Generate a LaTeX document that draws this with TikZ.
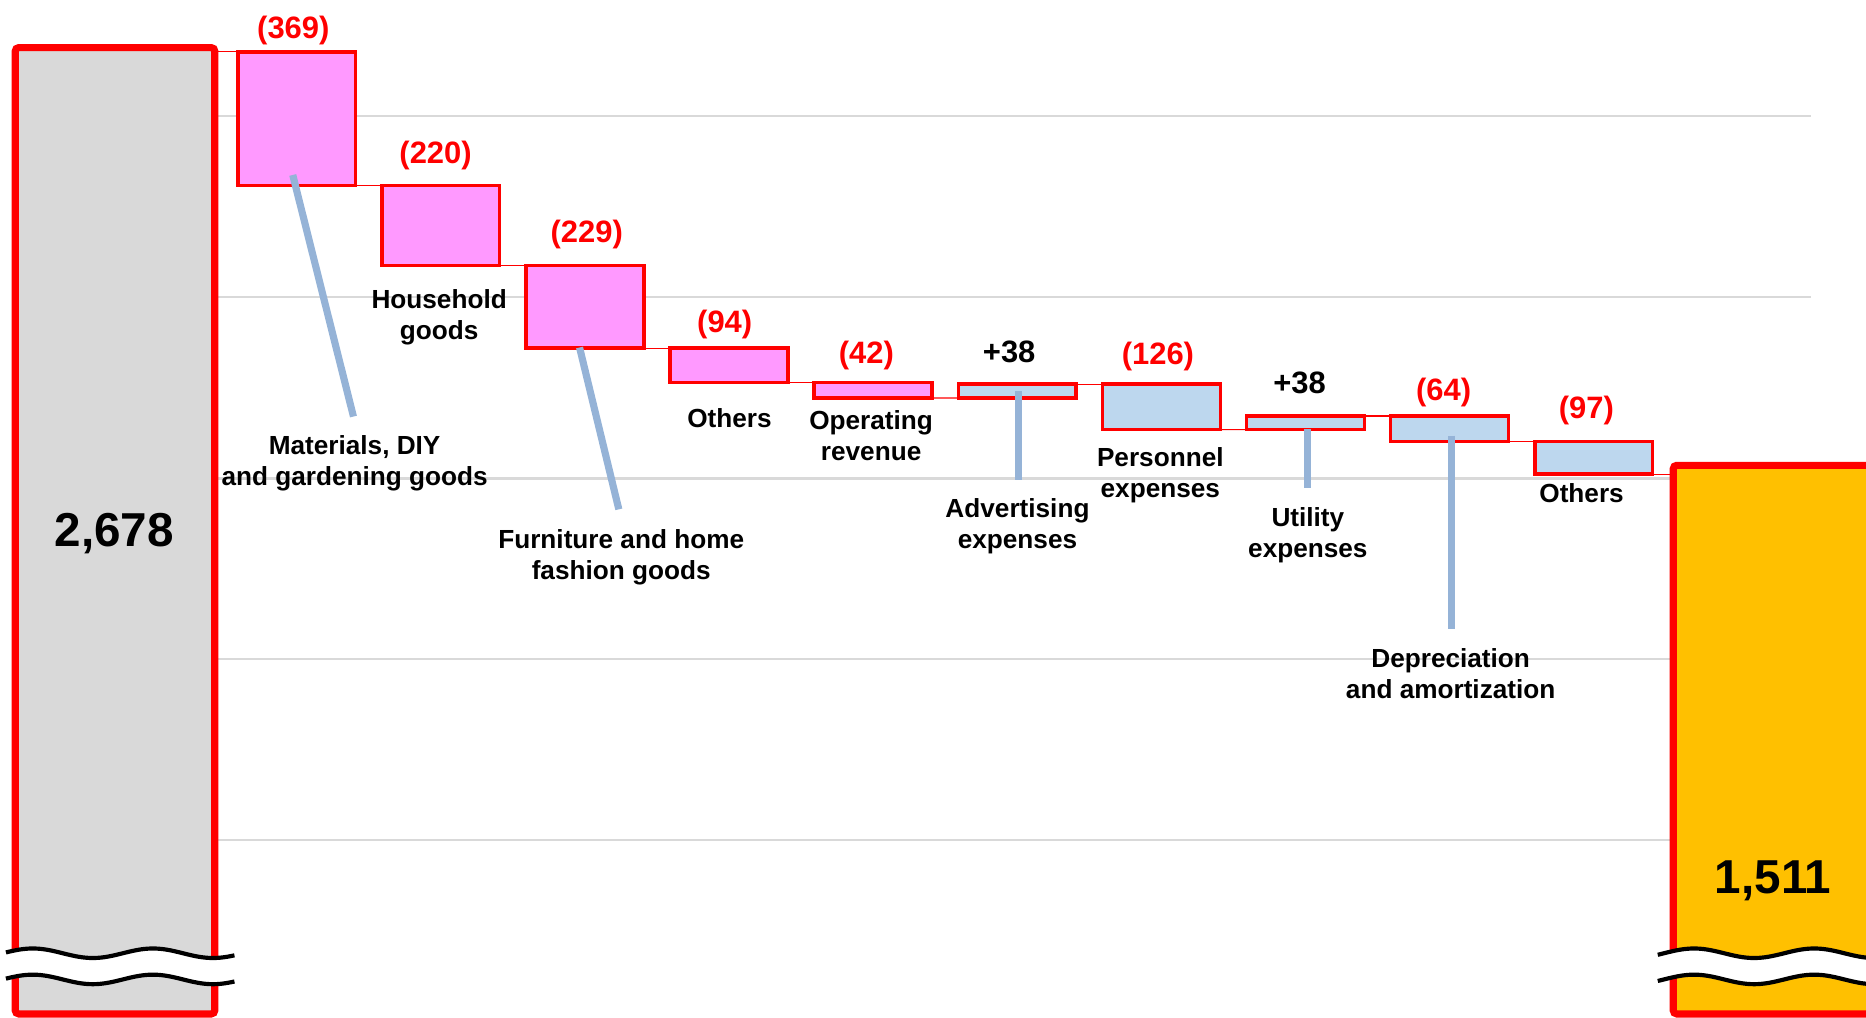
\documentclass[tikz,border=0pt]{standalone}
\usepackage{fontspec}
\setmainfont{Liberation Sans}
\definecolor{gridc}{HTML}{D9D9D9}
\definecolor{pinkc}{HTML}{FF99FF}
\definecolor{bluec}{HTML}{BDD7EE}
\definecolor{leadc}{HTML}{95B3D7}
\definecolor{grayc}{HTML}{D9D9D9}
\definecolor{goldc}{HTML}{FFC000}
\begin{document}
\begin{tikzpicture}[x=1pt,y=-1pt,
  gridln/.style={draw=gridc, line width=2pt},
  box/.style={draw=red, line width=3pt, minimum width=99pt, inner sep=0pt, outer sep=0pt, anchor=north west},
  pinkbox/.style={box, fill=pinkc},
  bluebox/.style={box, fill=bluec},
  bigbar/.style={draw=red, line width=6pt, rounded corners=3pt, inner sep=0pt, outer sep=0pt, anchor=north west},
  conn/.style={draw=red, line width=1pt},
  leader/.style={draw=leadc, line width=6pt},
  val/.style={font=\bfseries\fontsize{26}{30}\selectfont, text=red, inner sep=0pt, anchor=base},
  valk/.style={val, text=black},
  lab/.style={font=\bfseries\fontsize{22}{26}\selectfont, align=center, anchor=north, inner sep=0pt},
  big/.style={font=\bfseries\fontsize{40}{46}\selectfont, inner sep=0pt, anchor=base},
  brk/.style={draw=black, line width=3.5pt}
]
\useasboundingbox (0,0) rectangle (1568,855);
\clip (0,0) rectangle (1568,855);

% gridlines
\foreach \gy in {97.5,249.7,402,554,706}
  \draw[gridln] (183,\gy) -- (1522,\gy);

% step boxes
\node[pinkbox, minimum height=112.5pt] (b1)  at (199.8,43.5) {};
\node[pinkbox, minimum height=67pt]    (b2)  at (320.9,156) {};
\node[pinkbox, minimum height=69.5pt]  (b3)  at (442.0,223) {};
\node[pinkbox, minimum height=29pt]    (b4)  at (563.1,292.5) {};
\node[pinkbox, minimum height=13pt]    (b5)  at (684.2,321.5) {};
\node[bluebox, minimum height=11.7pt]  (b6)  at (805.3,322.8) {};
\node[bluebox, minimum height=38.2pt]  (b7)  at (926.4,322.8) {};
\node[bluebox, minimum height=11.4pt]  (b8)  at (1047.5,349.6) {};
\node[bluebox, minimum height=21.4pt]  (b9)  at (1168.6,349.6) {};
\node[bluebox, minimum height=27.5pt]  (b10) at (1289.7,371) {};

% big bars
\node[bigbar, fill=grayc, minimum width=167.7pt, minimum height=812pt] (L) at (12.8,40) {};
\node[bigbar, fill=goldc, minimum width=200pt, minimum height=461pt] (R) at (1406,391) {};

% connectors
\draw[conn] (b1.north west -| L.east) -- (b1.north west);
\draw[conn] (b1.south east) -- (b2.north west);
\draw[conn] (b2.south east) -- (b3.north west);
\draw[conn] (b3.south east) -- (b4.north west);
\draw[conn] (b4.south east) -- (b5.north west);
\draw[conn] (b5.south east) -- (b6.south west);
\draw[conn] (b6.north east) -- (b7.north west);
\draw[conn] (b7.south east) -- (b8.south west);
\draw[conn] (b8.north east) -- (b9.north west);
\draw[conn] (b9.south east) -- (b10.north west);
\draw[conn] (b10.south east) -- (b10.south east -| R.west);

% value labels
\node[val]  (v1)  at (246.5,32)  {(369)};
\node[val]  (v2)  at (366,137)   {(220)};
\node[val]  (v3)  at (493,204)   {(229)};
\node[val]  (v4)  at (609,279)   {(94)};
\node[val]  (v5)  at (728,305.5) {(42)};
\node[valk] (v6)  at (848,305)   {+38};
\node[val]  (v7)  at (973,306)   {(126)};
\node[valk] (v8)  at (1092,330.5){+38};
\node[val]  (v9)  at (1213,336.7){(64)};
\node[val]  (v10) at (1333,352)  {(97)};

% category labels
\node[lab] (t1)  at (298,366)    {Materials, DIY\\and gardening goods};
\node[lab] (t2)  at (369,243)    {Household\\goods};
\node[lab] (t3)  at (522,445)    {Furniture and home\\fashion goods};
\node[lab] (t4)  at (613,343)    {Others};
\node[lab] (t5)  at (732,344.5)  {Operating\\revenue};
\node[lab] (t6)  at (855,418.5)  {Advertising\\expenses};
\node[lab] (t7)  at (975,375.5)  {Personnel\\expenses};
\node[lab] (t8)  at (1099,426)   {Utility\\expenses};
\node[lab] (t9)  at (1219,544.6) {Depreciation\\and amortization};
\node[lab] (t10) at (1329,406)   {Others};

% leader lines
\coordinate (e1) at (297,350);
\coordinate (e3) at (520,428);
\coordinate (e6) at (855.5,403);
\coordinate (e8) at (1099,410);
\coordinate (e9) at (1220,528.5);
\draw[leader] (246,147) coordinate (s1) -- (e1);
\draw[leader] (487,292) coordinate (s3) -- (e3);
\draw[leader] (855.5,328.5) coordinate (s6) -- (e6);
\draw[leader] (1099,360.5) coordinate (s8) -- (e8);
\draw[leader] (1220,366) coordinate (s9) -- (e9);

% bar values
\node[big] (lv) at (96,459) {2,678};
\node[big] (rv) at (1490,751) {1,511};

% break marks
\fill[white] plot[domain=5:197,samples=80] (\x,{801+4*cos((\x-78)*3.5644)})
  -- plot[domain=197:5,samples=80] (\x,{823+4*cos((\x-78)*3.5644)}) -- cycle;
\draw[brk] plot[domain=5:197,samples=80] (\x,{801+4*cos((\x-78)*3.5644)});
\draw[brk] plot[domain=5:197,samples=80] (\x,{823+4*cos((\x-78)*3.5644)});
\fill[white] plot[domain=1393:1575,samples=80] (\x,{801+4*cos((\x-1474)*3.5644)})
  -- plot[domain=1575:1393,samples=80] (\x,{823+4*cos((\x-1474)*3.5644)}) -- cycle;
\draw[brk] plot[domain=1393:1575,samples=80] (\x,{801+4*cos((\x-1474)*3.5644)});
\draw[brk] plot[domain=1393:1575,samples=80] (\x,{823+4*cos((\x-1474)*3.5644)});
\end{tikzpicture}
\end{document}
